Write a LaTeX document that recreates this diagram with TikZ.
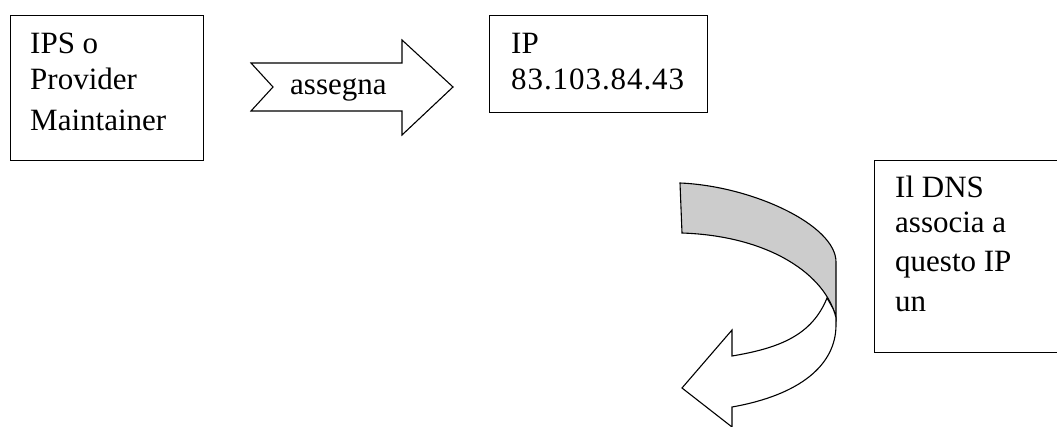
\documentclass[tikz,border=0pt]{standalone}
\usepackage{fontspec}
\setmainfont{Liberation Serif}
\newfontfamily\ipfont[LetterSpace=3]{Liberation Serif}
\definecolor{bandgray}{RGB}{204,204,204}
\tikzset{
	box/.style={draw,line width=1.1pt,rectangle,inner sep=0pt,anchor=north west},
	txt/.style={anchor=base west,inner sep=0pt,font=\fontsize{31}{38}\selectfont},
	shape line/.style={line width=1.1pt,line join=miter}
}

\begin{document}
\begin{tikzpicture}[x=1pt,y=-1pt]
			\useasboundingbox (0,0) rectangle (1057,427);
			\clip (0,0) rectangle (1057,427);
			% boxes
			\node[box,minimum width=193pt,minimum height=145pt] (ipsbox) at (9.5,15) {};
			\node[box,minimum width=218pt,minimum height=97pt] (ipbox) at (489,15) {};
			\node[box,minimum width=200pt,minimum height=192pt] (dnsbox) at (874,160) {};
			% texts
			\node[txt] (ips1) at (30,54) {IPS o};
			\node[txt] (ips2) at (30,90) {Provider};
			\node[txt] (ips3) at (30,131) {Maintainer};
			\node[txt] (ip1) at (511,54) {IP};
			\node[txt,font=\fontsize{31}{38}\ipfont] (ip2) at (511,90) {83.103.84.43};
			\node[txt] (dns1) at (895,198) {Il DNS};
			\node[txt] (dns2) at (895,233) {associa a};
			\node[txt] (dns3) at (895,272) {questo IP};
			\node[txt] (dns4) at (895,312) {un};
			% block arrow
			\draw[shape line] (251,63) -- (402,63) -- (402,40) -- (453,87) -- (402,135)
				-- (402,111) -- (251,111) -- (273,87) -- cycle;
			\node[txt] (assegna) at (290,95) {assegna};
			% curved arrow
			\begin{scope}[shape line]
				\draw[fill=bandgray] (680,183) .. controls (752,186) and (836,225) .. (836,262)
					-- (836,318) .. controls (826,275) and (770,236) .. (682,233) -- cycle;
				\draw[fill=white] (827,298) .. controls (812,335) and (780,348) .. (732,356)
					-- (732,330) -- (682,388) -- (732,427) -- (732,407)
					.. controls (800,395) and (836,365) .. (836,325)
					-- (836,318) .. controls (834,310) .. (827,298) -- cycle;
			\end{scope}
		\end{tikzpicture}
\end{document}
